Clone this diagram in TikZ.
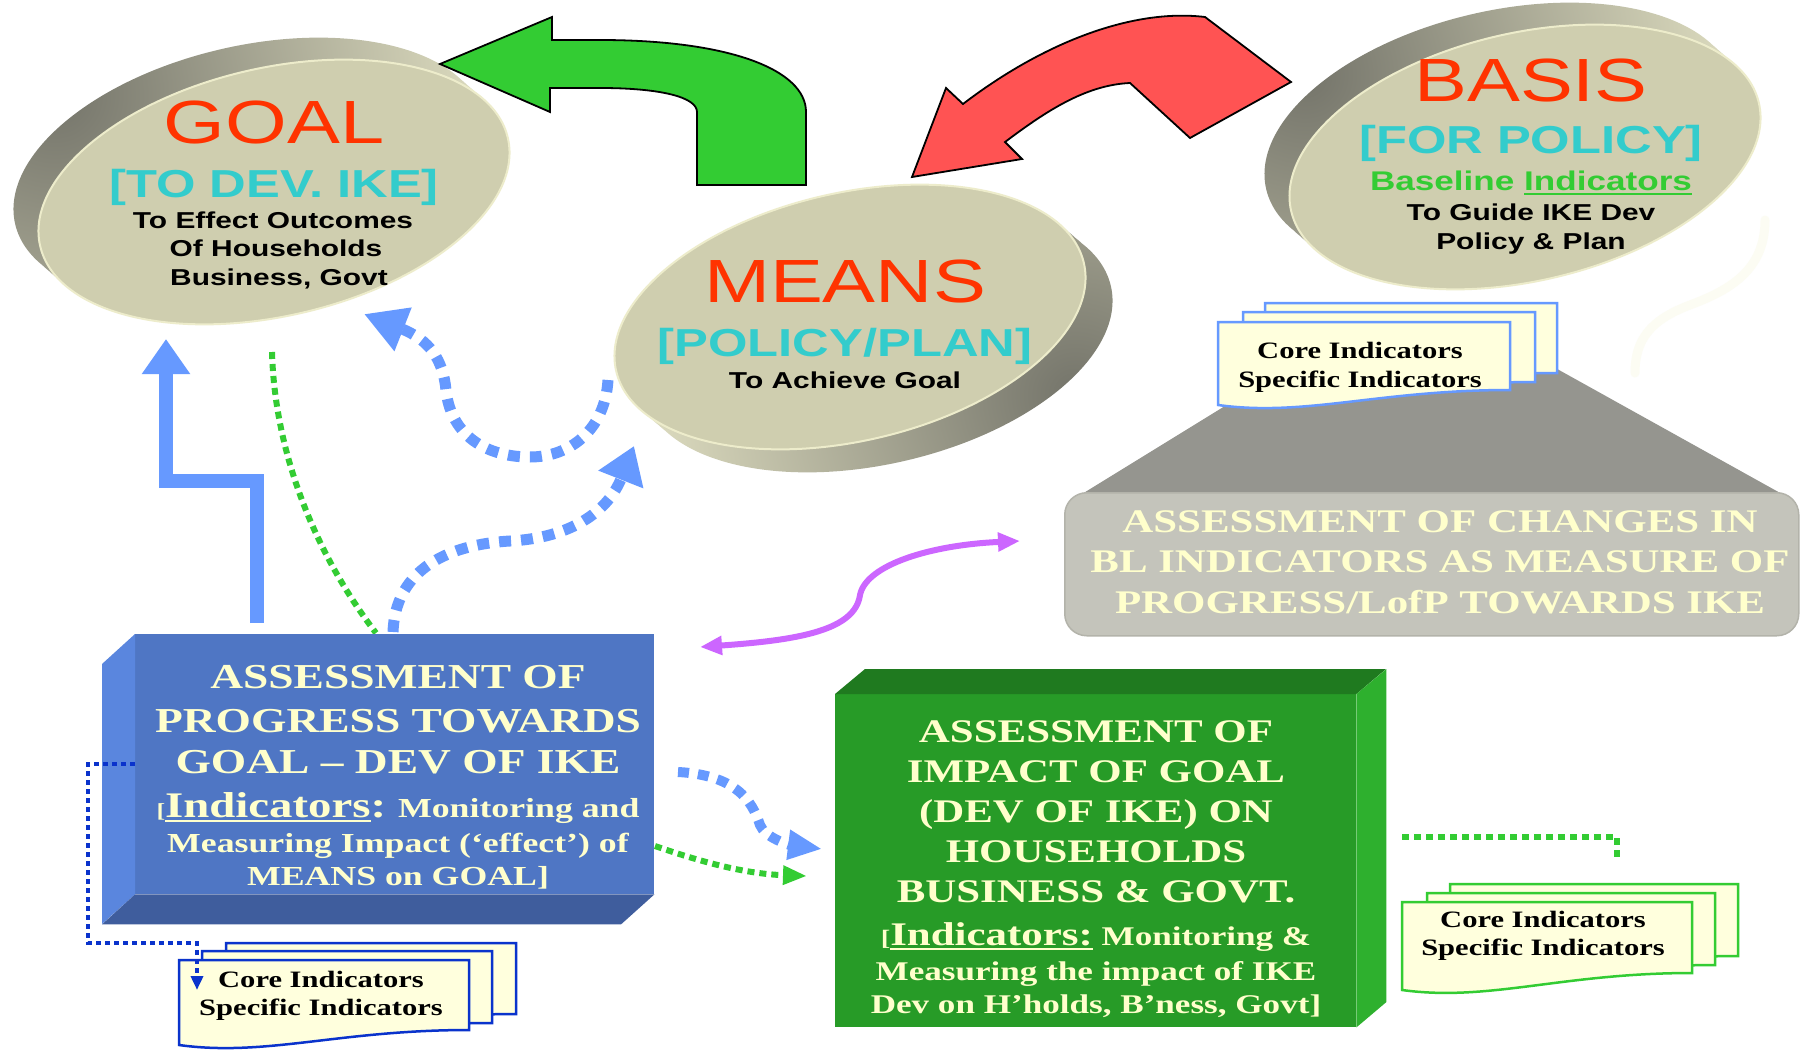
\documentclass[tikz,border=0pt]{standalone}
\usepackage{fontspec}
\usetikzlibrary{arrows.meta}
\newfontfamily\ikesans[FakeStretch=1.3]{Liberation Sans}
\newfontfamily\ikeserif[FakeStretch=1.3]{Liberation Serif}

\definecolor{titlered}{HTML}{FF3300}
\definecolor{ikecyan}{HTML}{33CCCC}
\definecolor{ikegreen}{HTML}{33CC33}
\definecolor{ikered}{HTML}{FF5353}
\definecolor{ikeblue}{HTML}{6699FF}
\definecolor{ikepurple}{HTML}{CC66FF}
\definecolor{ikenavy}{HTML}{0A33CC}
\definecolor{ikecream}{HTML}{FFFFCC}
\definecolor{discface}{HTML}{CFCEAF}
\definecolor{discrim}{HTML}{EDECCB}
\definecolor{discdark}{HTML}{74746A}
\definecolor{disclight}{HTML}{E4E3C5}
\definecolor{bluefront}{HTML}{4F76C4}
\definecolor{blueside}{HTML}{5A86DE}
\definecolor{bluebottom}{HTML}{3F5D9D}
\definecolor{greenfront}{HTML}{279B27}
\definecolor{greentop}{HTML}{1F7A1F}
\definecolor{greenside}{HTML}{2EB02E}
\definecolor{graybox}{HTML}{C4C4BB}
\definecolor{grayedge}{HTML}{B3B3AA}
\definecolor{graytrap}{HTML}{95958F}
\definecolor{docfill}{HTML}{FFFFDD}
\definecolor{faintcream}{HTML}{FCFCF3}

% thick underline that sits below the baseline
\newsavebox\ikebox
\newcommand\ikeunder[1]{\sbox\ikebox{#1}\rlap{\rule[-5pt]{\wd\ikebox}{2.5pt}}\usebox\ikebox}

% raised disc: #1,#2 centre of the face, #3,#4 offset of the back face,
% #5,#6 darkest point of the side
\newcommand\ikedisc[6]{%
  \begin{scope}
    \clip ({#1+(#3)},{#2+(#4)}) circle[x radius=240pt,y radius=124pt,rotate=13]
          ({#1+0.75*(#3)},{#2+0.75*(#4)}) circle[x radius=240pt,y radius=124pt,rotate=13]
          ({#1+0.5*(#3)},{#2+0.5*(#4)}) circle[x radius=240pt,y radius=124pt,rotate=13]
          ({#1+0.25*(#3)},{#2+0.25*(#4)}) circle[x radius=240pt,y radius=124pt,rotate=13];
    \shade[inner color=discdark,outer color=disclight] (#5,#6) circle[radius=460pt];
  \end{scope}
  \fill[discface] (#1,#2) circle[x radius=240pt,y radius=124pt,rotate=13];
  \draw[discrim,line width=2pt] (#1,#2) circle[x radius=240pt,y radius=124pt,rotate=13];
}

% document sheet with a wavy foot: left, top, width, left height, right height, outline
\newcommand\ikedoc[6]{%
  \filldraw[fill=docfill,draw=#6,line width=2.5pt]
    (#1,#2) -- ++(#3,0) -- ++(0,#5)
    .. controls +({-0.45*(#3)},0) and ({#1+0.3*(#3)},{#2+(#4)+12}) .. (#1,{#2+(#4)}) -- cycle;
}

\tikzset{
  lbl/.style={anchor=base,inner sep=0pt,outer sep=0pt},
  discbig/.style={lbl,font=\ikesans\fontsize{61}{62}\selectfont,text=titlered},
  discbrk/.style={lbl,font=\ikesans\bfseries\fontsize{39}{40}\selectfont,text=ikecyan},
  discnote/.style={lbl,font=\ikesans\bfseries\fontsize{23}{24}\selectfont,text=black},
  boxbig/.style={lbl,font=\ikeserif\bfseries\fontsize{35}{36}\selectfont,text=ikecream},
  boxsmall/.style={lbl,font=\ikeserif\bfseries\fontsize{27.5}{28}\selectfont,text=ikecream},
  grnbig/.style={lbl,font=\ikeserif\bfseries\fontsize{33}{34}\selectfont,text=ikecream},
  grnsmall/.style={lbl,font=\ikeserif\bfseries\fontsize{27}{28}\selectfont,text=ikecream},
  doctext/.style={lbl,font=\ikeserif\bfseries\fontsize{23.5}{24}\selectfont,text=black},
  bluedash/.style={ikeblue,line width=11pt,dash pattern=on 12pt off 10pt},
  greendots/.style={ikegreen,line width=6pt,dash pattern=on 7pt off 5pt},
  navydots/.style={ikenavy,line width=4pt,dash pattern=on 5pt off 4pt},
  blockarrow/.style={draw=black,line width=1.8pt,line join=miter},
}

\begin{document}
\begin{tikzpicture}[x=1pt,y=-1pt]
\useasboundingbox (0,0) rectangle (1814,1051);
\fill[white] (0,0) rectangle (1814,1051);

% ---------- grey pedestal with the change assessment ----------
\fill[graytrap] (1316,350) -- (1523,350) -- (1782,494) -- (1082,494) -- cycle;
\node[fill=graybox,draw=grayedge,line width=1.5pt,rounded corners=22pt,
      minimum width=734pt,minimum height=143pt,anchor=north west,inner sep=0pt] (change) at (1064,492) {};
\node[grnbig] (changeA) at (1440,532) {ASSESSMENT OF CHANGES IN};
\node[grnbig] (changeB) at (1440,572) {BL INDICATORS AS MEASURE OF};
\node[grnbig] (changeC) at (1440,613) {PROGRESS/LofP TOWARDS IKE};

% baseline indicator sheets
\ikedoc{1265}{303}{292}{85}{70}{ikeblue}
\ikedoc{1243}{312}{292}{85}{70}{ikeblue}
\ikedoc{1218}{322}{292}{83}{68}{ikeblue}
\node[doctext] (baseCore) at (1360,358) {Core Indicators};
\node[doctext] (baseSpec) at (1360,387) {Specific Indicators};

% faint trace beside the basis disc
\draw[faintcream,line width=9pt,line cap=round]
  (1765,220) .. controls (1765,270) and (1730,290) .. (1690,305)
             .. controls (1650,320) and (1635,340) .. (1635,373);

% ---------- links that run behind the discs ----------
\coordinate (meansW) at (608,380);
\coordinate (goalSE) at (364,314);
\coordinate (progTopA) at (393,632);
\coordinate (meansSW) at (634,446);
\coordinate (goalDot) at (272,352);
\coordinate (progDot) at (376,633);
\coordinate (bentFoot) at (257,623);
\coordinate (goalFoot) at (166,339);

\draw[bluedash,-{Triangle[length=42pt,width=44pt]}] (meansW)
  .. controls (605,430) and (570,457) .. (530,457)
  .. controls (480,457) and (450,430) .. (446,390)
  .. controls (443,360) and (430,340) .. (goalSE);
\draw[bluedash,-{Triangle[length=36pt,width=46pt]}] (progTopA)
  .. controls (395,575) and (440,545) .. (510,541)
  .. controls (570,538) and (608,512) .. (meansSW);
\draw[greendots] (goalDot) .. controls (275,460) and (320,560) .. (progDot);
\draw[ikeblue,line width=14pt,-{Triangle[length=35pt,width=46pt]}]
  (bentFoot) -- ++(0,-142) -| (goalFoot);

% ---------- the three discs ----------
\ikedisc{274}{192}{-25}{-22}{55}{95}
\ikedisc{850}{317}{27}{23}{1075}{395}
\ikedisc{1525}{157}{-25}{-22}{1305}{75}

\node[discbig] (goal) at (274,144) {GOAL};
\node[discbrk] (goalsub) at (274,197) {[TO DEV. IKE]};
\node[discnote] (goalA) at (273,228) {To Effect Outcomes};
\node[discnote] (goalB) at (276,256) {Of Households};
\node[discnote] (goalC) at (279,285) {Business, Govt};

\node[discbig] (means) at (845,302) {MEANS};
\node[discbrk] (meanssub) at (845,356) {[POLICY/PLAN]};
\node[discnote] (meansA) at (845,388) {To Achieve Goal};

\node[discbig] (basis) at (1531,102) {BASIS};
\node[discbrk] (basissub) at (1531,154) {[FOR POLICY]};
\node[lbl,font=\ikesans\bfseries\fontsize{27}{28}\selectfont,text=ikegreen] (basisA) at (1531,190) {Baseline \ikeunder{Indicators}};
\node[discnote] (basisB) at (1531,220) {To Guide IKE Dev};
\node[discnote] (basisC) at (1531,249) {Policy \& Plan};

% ---------- block arrows ----------
\fill[ikegreen,blockarrow] (552,40) -- (600,40)
  .. controls (730,40) and (806,70) .. (806,112) -- (806,185) -- (697,185) -- (697,112)
  .. controls (697,97) and (660,88) .. (600,88) -- (550,88) -- (550,112)
  -- (440,64) -- (552,17) -- cycle;
\fill[ikered,blockarrow] (912,177) -- (946,88) -- (963,104)
  .. controls (1040,45) and (1130,8) .. (1205,17) -- (1291,82) -- (1190,138) -- (1130,83)
  .. controls (1085,85) and (1045,112) .. (1005,142) -- (1022,159) -- cycle;

% ---------- progress box ----------
\node[fill=bluefront,minimum width=519pt,minimum height=260pt,anchor=north west,inner sep=0pt] (progress) at (135,634) {};
\fill[blueside] (progress.north west) -- ++(-33,30) -- ++(0,260) -- (progress.south west) -- cycle;
\fill[bluebottom] (progress.south west) -- ++(-33,30) -- ++(519,0) -- (progress.south east) -- cycle;
\node[boxbig] (progA) at (398,688) {ASSESSMENT OF};
\node[boxbig] (progB) at (398,732) {PROGRESS TOWARDS};
\node[boxbig] (progC) at (398,773) {GOAL – DEV OF IKE};
\node[boxsmall] (progD) at (398,817) {{\fontsize{20}{20}\selectfont[}{\fontsize{36}{36}\selectfont\ikeunder{Indicators}:} Monitoring and};
\node[boxsmall] (progE) at (398,852) {Measuring Impact (‘effect’) of};
\node[boxsmall] (progF) at (398,885) {MEANS on GOAL]};

% ---------- impact box ----------
\node[fill=greenfront,minimum width=521pt,minimum height=333pt,anchor=north west,inner sep=0pt] (impact) at (835,694) {};
\fill[greentop] (impact.north west) -- ++(30,-25) -- ++(521,0) -- (impact.north east) -- cycle;
\fill[greenside] (impact.north east) -- ++(30,-25) -- ++(0,333) -- (impact.south east) -- cycle;
\node[grnbig] (impA) at (1096,742) {ASSESSMENT OF};
\node[grnbig] (impB) at (1096,782) {IMPACT OF GOAL};
\node[grnbig] (impC) at (1096,822) {(DEV OF IKE) ON};
\node[grnbig] (impD) at (1096,862) {HOUSEHOLDS};
\node[grnbig] (impE) at (1096,902) {BUSINESS \& GOVT.};
\node[grnsmall] (impF) at (1096,945) {{\fontsize{22}{22}\selectfont[}{\fontsize{33}{33}\selectfont\ikeunder{Indicators:}} Monitoring \&};
\node[grnsmall] (impG) at (1096,980) {Measuring the impact of IKE};
\node[grnsmall] (impH) at (1096,1013) {Dev on H’holds, B’ness, Govt]};

% ---------- indicator sheets below the boxes ----------
\ikedoc{226}{943}{290}{85}{71}{ikenavy}
\ikedoc{202}{951}{290}{85}{72}{ikenavy}
\ikedoc{179}{960}{290}{85}{70}{ikenavy}
\node[doctext] (progCore) at (321,987) {Core Indicators};
\node[doctext] (progSpec) at (321,1015) {Specific Indicators};

\ikedoc{1450}{884}{288}{88}{72}{ikegreen}
\ikedoc{1427}{893}{288}{88}{72}{ikegreen}
\ikedoc{1402}{902}{290}{88}{71}{ikegreen}
\node[doctext] (impCore) at (1543,927) {Core Indicators};
\node[doctext] (impSpec) at (1543,955) {Specific Indicators};

% ---------- remaining links ----------
\coordinate (progW) at (135,764);
\coordinate (sheetTop) at (197,990);
\draw[navydots,-{Triangle[length=14pt,width=12pt]}] (progW) -- (88,764) -- (88,943) -- (197,943) -- (sheetTop);

\coordinate (progE1) at (678,772);
\coordinate (impW1) at (822,849);
\draw[ikeblue,line width=10pt,dash pattern=on 11pt off 9pt,-{Triangle[length=34pt,width=28pt]}] (progE1)
  .. controls (735,775) and (752,800) .. (760,825)
  .. controls (765,838) and (790,845) .. (impW1);

\coordinate (progE2) at (655,846);
\coordinate (impW2) at (807,876);
\draw[greendots,-{Triangle[length=24pt,width=18pt]}] (progE2) .. controls (710,865) and (750,874) .. (impW2);

\coordinate (progNE) at (700,647);
\coordinate (changeW) at (1020,541);
\draw[ikepurple,line width=6pt,{Triangle[length=22pt,width=18pt]}-{Triangle[length=22pt,width=18pt]}] (progNE)
  .. controls (800,640) and (855,630) .. (860,595)
  .. controls (866,565) and (930,545) .. (changeW);

\coordinate (impE1) at (1402,837);
\coordinate (impSheet) at (1617,857);
\draw[greendots] (impE1) -- (1617,837) -- (impSheet);
\end{tikzpicture}
\end{document}
